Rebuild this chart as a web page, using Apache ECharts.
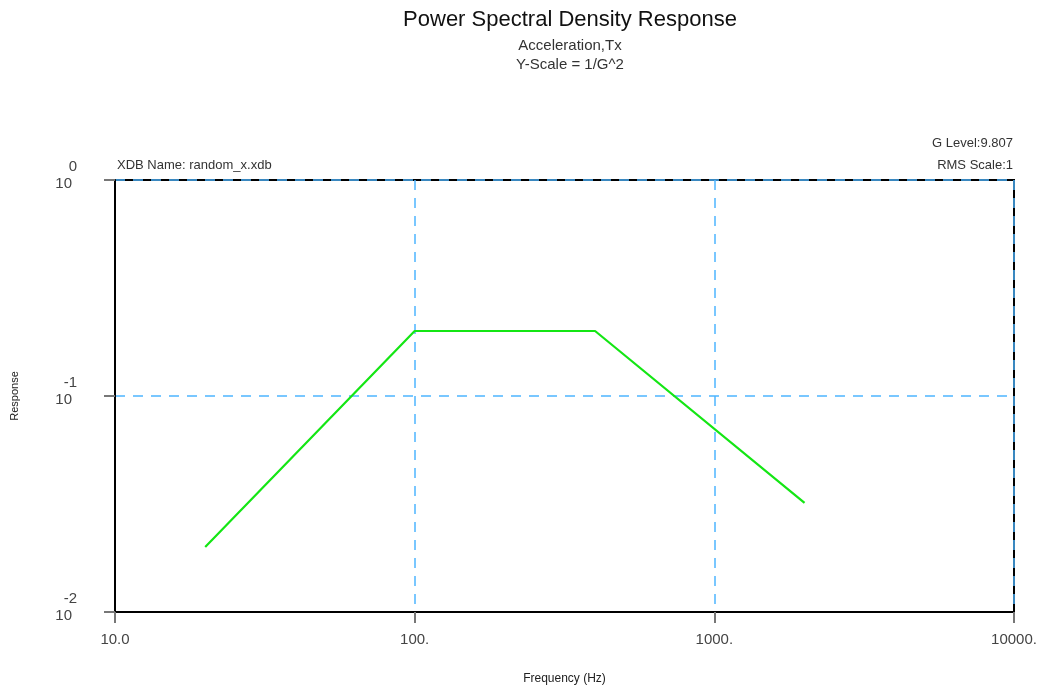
<!DOCTYPE html>
<html>
<head>
<meta charset="utf-8">
<script src="https://cdn.jsdelivr.net/npm/echarts@6/dist/echarts.min.js"></script>
<style>html,body{margin:0;padding:0;background:#fff}#c{width:1047px;height:687px}</style>
</head>
<body>
<div id="c"></div>
<script>
const freqHz = [20, 100, 400, 2000];
const psdValues = [0.02, 0.2, 0.2, 0.032];
const xTickLabels = {10: '10.0', 100: '100.', 1000: '1000.', 10000: '10000.'};
const yTickExponents = {0.01: '-2', 0.1: '-1', 1: '0'};

const FONT = '"Liberation Sans", Arial, sans-serif';
const chart = echarts.init(document.getElementById('c'));
chart.setOption({
  backgroundColor: '#fff',
  animation: false,
  title: [
    {text: 'Power Spectral Density Response', left: 565, textAlign: 'center', top: 4,
     textStyle: {fontFamily: FONT, fontSize: 22, fontWeight: 'normal', color: '#111'}},
    {text: 'Acceleration,Tx', left: 565, textAlign: 'center', top: 33,
     textStyle: {fontFamily: FONT, fontSize: 15, fontWeight: 'normal', color: '#333'}},
    {text: 'Y-Scale = 1/G^2', left: 565, textAlign: 'center', top: 52,
     textStyle: {fontFamily: FONT, fontSize: 15, fontWeight: 'normal', color: '#333'}}
  ],
  graphic: [
    {type: 'text', left: 117, top: 159, style: {text: 'XDB Name: random_x.xdb', font: '13px ' + FONT, fill: '#333'}},
    {type: 'text', right: 34, top: 137, style: {text: 'G Level:9.807', font: '13px ' + FONT, fill: '#333'}},
    {type: 'text', right: 34, top: 159, style: {text: 'RMS Scale:1', font: '13px ' + FONT, fill: '#333'}}
  ],
  grid: {left: 115, right: 33, top: 180, bottom: 75, outerBoundsMode: 'none', containLabel: false,
         show: true, borderColor: '#000', borderWidth: 2, backgroundColor: '#fff'},
  xAxis: {
    type: 'log', logBase: 10, min: 10, max: 10000,
    name: 'Frequency (Hz)', nameLocation: 'middle', nameGap: 61,
    nameTextStyle: {fontFamily: FONT, fontSize: 12, color: '#222'},
    axisLine: {show: true, lineStyle: {color: '#000', width: 2}},
    axisTick: {show: true, length: 11, lineStyle: {color: '#777', width: 2}},
    axisLabel: {fontFamily: FONT, fontSize: 15, color: '#444', margin: 20,
      formatter: v => xTickLabels[Math.round(v)] || ''},
    splitLine: {show: true, lineStyle: {color: '#4db5ff', type: [10, 8], width: 1.5}},
    minorTick: {show: false}
  },
  yAxis: {
    type: 'log', logBase: 10, min: 0.01, max: 1,
    name: 'Response', nameLocation: 'middle', nameGap: 95, nameRotate: 90,
    nameTextStyle: {fontFamily: FONT, fontSize: 11, color: '#222'},
    axisLine: {show: true, lineStyle: {color: '#000', width: 2}},
    axisTick: {show: true, length: 11, lineStyle: {color: '#777', width: 2}},
    axisLabel: {margin: 38, align: 'right',
      formatter: v => {
        const k = Object.keys(yTickExponents).find(t => Math.abs(+t - v) < v * 1e-6);
        return k ? '{e|' + yTickExponents[k] + '}\n{b|10}' : '';
      },
      rich: {
        e: {fontFamily: FONT, fontSize: 15, color: '#444', align: 'right', lineHeight: 8},
        b: {fontFamily: FONT, fontSize: 15, color: '#444', align: 'right', padding: [0, 5, 0, 0], lineHeight: 26}
      }
    },
    splitLine: {show: true, lineStyle: {color: '#4db5ff', type: [10, 8], width: 1.5}}
  },
  series: [{
    type: 'line',
    data: freqHz.map((f, i) => [f, psdValues[i]]),
    showSymbol: false,
    lineStyle: {color: '#14e614', width: 2.2},
    itemStyle: {color: '#14e614'}
  }]
});
</script>
</body>
</html>
